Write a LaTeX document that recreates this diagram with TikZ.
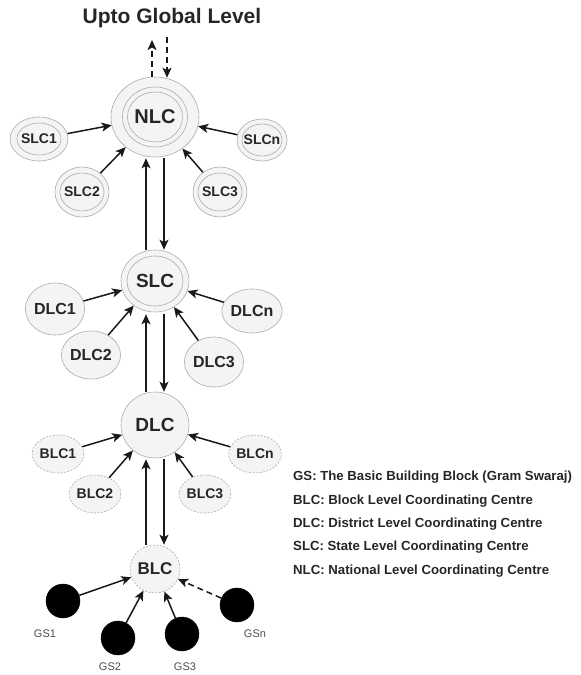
\documentclass[tikz,border=0pt]{standalone}
\usepackage{fontspec}
\setmainfont{Liberation Sans}
\usetikzlibrary{shapes.geometric,arrows.meta}
\begin{document}
\begin{tikzpicture}[x=1pt,y=-1pt,
  base/.style={ellipse, draw=gray!65, line width=0.6pt, fill=gray!9, inner sep=0pt, text=black!85, font=\bfseries},
  sz/.style n args={2}{minimum width=#1pt, minimum height=#2pt},
  fnt/.style={font=\bfseries\fontsize{#1}{#1}\selectfont},
  dsh/.style={dash pattern=on 2pt off 1.5pt},
  gs/.style={circle, fill=black, draw=black, minimum size=34pt, inner sep=0pt},
  gslab/.style={font=\fontsize{11}{11}\selectfont, text=black!70},
  arr/.style={-{Stealth[length=10pt,width=9pt,inset=2.5pt]}, line width=1.5pt, black!90},
  ring/.style={draw=gray!65, line width=0.6pt},
  leg/.style={anchor=west, font=\bfseries\fontsize{13.2}{13.2}\selectfont, text=black!85, inner sep=0pt}
]
\useasboundingbox (0,0) rectangle (581,675);

% title
\node[font=\bfseries\fontsize{21}{21}\selectfont, text=black!85] (title) at (172,18) {Upto Global Level};

% NLC level
\node[base, sz={88}{80}, fnt=20] (nlc) at (155,117) {};
\draw[ring] (nlc.center) ellipse [x radius=32.5pt, y radius=30pt];
\draw[ring] (nlc.center) ellipse [x radius=27.5pt, y radius=25pt];
\node[fnt=20, text=black!85] at (nlc.center) {NLC};

\node[base, sz={58}{44}, fnt=14] (slc1) at (39,139) {};
\draw[ring] (slc1.center) ellipse [x radius=22pt, y radius=16pt];
\node[fnt=14, text=black!85] at (slc1.center) {SLC1};
\node[base, sz={54}{50}, fnt=14] (slc2) at (82,192) {};
\draw[ring] (slc2.center) ellipse [x radius=22pt, y radius=19pt];
\node[fnt=14, text=black!85] at (slc2.center) {SLC2};
\node[base, sz={54}{50}, fnt=14] (slc3) at (220,192) {};
\draw[ring] (slc3.center) ellipse [x radius=22pt, y radius=19pt];
\node[fnt=14, text=black!85] at (slc3.center) {SLC3};
\node[base, sz={50}{42}, fnt=14] (slcn) at (262,140) {};
\draw[ring] (slcn.center) ellipse [x radius=20pt, y radius=16pt];
\node[fnt=14, text=black!85] at (slcn.center) {SLCn};

% SLC level
\node[base, sz={68}{62}, fnt=19] (slc) at (155,281) {};
\draw[ring] (slc.center) ellipse [x radius=28pt, y radius=25pt];
\node[fnt=19, text=black!85] at (slc.center) {SLC};

\node[base, sz={56}{52}, fnt=16] (dlc1) at (55,309) {DLC1};
\node[base, sz={56}{48}, fnt=16] (dlc2) at (91,355) {DLC2};
\node[base, sz={56}{50}, fnt=16] (dlc3) at (214,362) {DLC3};
\node[base, sz={50}{44}, fnt=16] (dlcn) at (252,311) {DLCn};

% DLC level
\node[base, sz={68}{66}, fnt=19] (dlc) at (155,425) {DLC};

\node[base, dsh, sz={42}{38}, fnt=14] (blc1) at (58,454) {BLC1};
\node[base, dsh, sz={44}{38}, fnt=14] (blc2) at (95,494) {BLC2};
\node[base, dsh, sz={44}{38}, fnt=14] (blc3) at (205,494) {BLC3};
\node[base, dsh, sz={44}{38}, fnt=14] (blcn) at (255,454) {BLCn};

% BLC level
\node[base, dsh, sz={50}{48}, fnt=17] (blc) at (155,569) {BLC};

\node[gs] (gs1) at (63,601) {};
\node[gs] (gs2) at (118,638) {};
\node[gs] (gs3) at (182,634) {};
\node[gs] (gsn) at (237,605) {};
\node[gslab] (gs1l) at (45,634) {GS1};
\node[gslab] (gs2l) at (110,667) {GS2};
\node[gslab] (gs3l) at (185,667) {GS3};
\node[gslab] (gsnl) at (255,634) {GSn};

% global arrows
\coordinate (gup) at (152,40);
\coordinate (gdn) at (167,37);
\draw[arr, dash pattern=on 6pt off 4pt] ([xshift=-3pt]nlc.north) -- (gup);
\draw[arr, dash pattern=on 6pt off 4pt] (gdn) -- ([xshift=12pt,yshift=-1pt]nlc.north);

% into NLC
\draw[arr] (slc1) -- (nlc);
\draw[arr] (slc2) -- (nlc);
\draw[arr] (slc3) -- (nlc);
\draw[arr] (slcn) -- (nlc);
\draw[arr] ([xshift=-9pt]slc.north) -- ([xshift=-9pt,yshift=-1pt]nlc.south);
\draw[arr] ([xshift=9pt,yshift=-1pt]nlc.south) -- ([xshift=9pt]slc.north);

% into SLC
\draw[arr] (dlc1) -- (slc);
\draw[arr] (dlc2) -- (slc);
\draw[arr] (dlc3) -- (slc);
\draw[arr] (dlcn) -- (slc);
\draw[arr] ([xshift=-9pt]dlc.north) -- ([xshift=-9pt,yshift=-2pt]slc.south);
\draw[arr] ([xshift=9pt,yshift=-2pt]slc.south) -- ([xshift=9pt]dlc.north);

% into DLC
\draw[arr] (blc1) -- (dlc);
\draw[arr] (blc2) -- (dlc);
\draw[arr] (blc3) -- (dlc);
\draw[arr] (blcn) -- (dlc);
\draw[arr] ([xshift=-9pt]blc.north) -- ([xshift=-9pt,yshift=-1pt]dlc.south);
\draw[arr] ([xshift=9pt,yshift=-1pt]dlc.south) -- ([xshift=9pt]blc.north);

% into BLC
\draw[arr] (gs1) -- (blc);
\draw[arr] (gs2) -- (blc);
\draw[arr] (gs3) -- (blc);
\draw[arr, dash pattern=on 6pt off 4pt] (gsn) -- (blc);

% legend
\node[leg] (l1) at (293,477) {GS: The Basic Building Block (Gram Swaraj)};
\node[leg] (l2) at (293,501) {BLC: Block Level Coordinating Centre};
\node[leg] (l3) at (293,524) {DLC: District Level Coordinating Centre};
\node[leg] (l4) at (293,547) {SLC: State Level Coordinating Centre};
\node[leg] (l5) at (293,571) {NLC: National Level Coordinating Centre};
\end{tikzpicture}
\end{document}
